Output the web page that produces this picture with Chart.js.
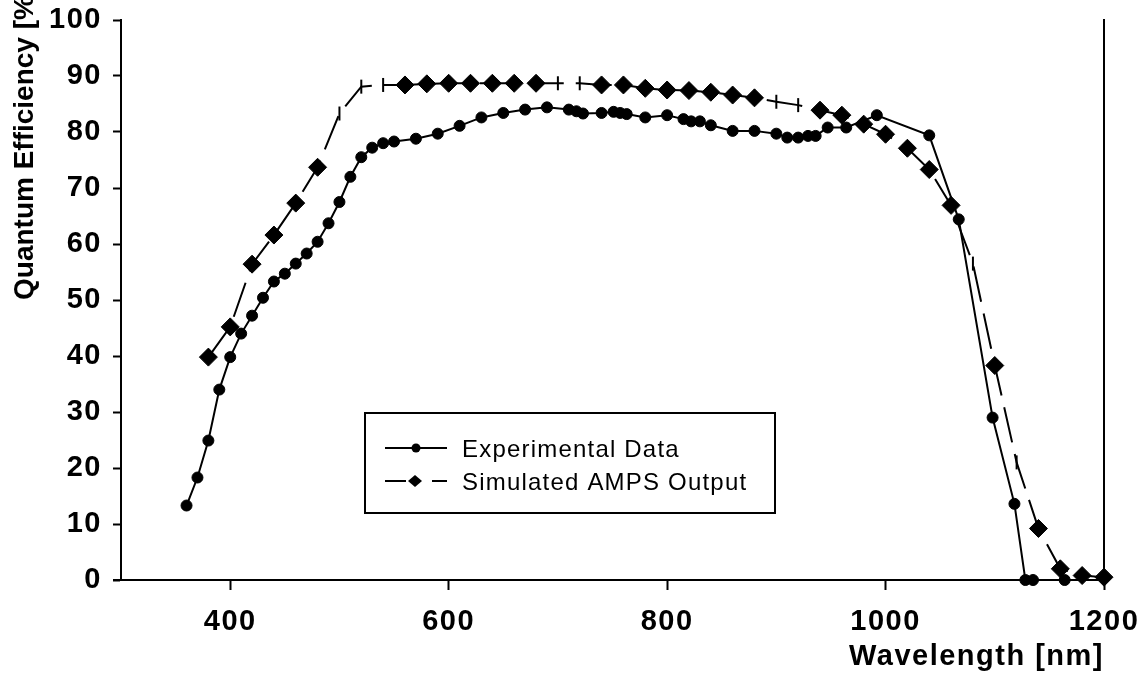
<!DOCTYPE html>
<html>
<head>
<meta charset="utf-8">
<title>Quantum Efficiency</title>
<script src="https://cdn.jsdelivr.net/npm/chart.js@4.4.1/dist/chart.umd.min.js"></script>
<style>
  html, body { margin: 0; padding: 0; background: #fff; }
  .chartBox { position: relative; width: 1145px; height: 678px; }
</style>
</head>
<body>
<div class="chartBox"><canvas id="qeChart"></canvas></div>
<script>
// measured QE
const expWavelength = [360, 370, 380, 390, 400, 410, 420, 430, 440, 450, 460, 470, 480, 490, 500, 510, 520, 530, 540, 550,
  570, 590, 610, 630, 650, 670, 690, 710, 717, 723, 740, 751, 757, 763, 780, 800, 815, 822, 830, 840,
  860, 880, 900, 910, 920, 929, 936, 947, 964, 992, 1040, 1067, 1098, 1118, 1128, 1135, 1164];
const expQE = [13.3, 18.3, 24.9, 34.0, 39.8, 44.0, 47.2, 50.4, 53.3, 54.7, 56.5, 58.3, 60.4, 63.7, 67.5, 72.0, 75.5, 77.2, 78.0, 78.3,
  78.8, 79.7, 81.1, 82.6, 83.4, 84.0, 84.4, 84.0, 83.7, 83.3, 83.4, 83.6, 83.4, 83.2, 82.6, 83.0, 82.3, 81.9, 81.9, 81.2,
  80.2, 80.2, 79.7, 79.0, 79.0, 79.3, 79.3, 80.8, 80.8, 83.0, 79.4, 64.4, 29.0, 13.6, 0, 0, 0];

// AMPS simulation
const simWavelength = [380, 400, 420, 440, 460, 480, 500, 520, 540, 560, 580, 600, 620, 640, 660, 680, 700, 720, 740, 760,
  780, 800, 820, 840, 860, 880, 900, 920, 940, 960, 980, 1000, 1020, 1040, 1060, 1080, 1100, 1120, 1140, 1160, 1180, 1200];
const simQE = [39.8, 45.2, 56.4, 61.6, 67.3, 73.7, 83.3, 88.1, 88.4, 88.4, 88.6, 88.7, 88.7, 88.7, 88.7, 88.7, 88.7, 88.7, 88.4, 88.4,
  87.8, 87.5, 87.4, 87.1, 86.6, 86.1, 85.4, 84.8, 83.9, 83.0, 81.4, 79.6, 77.1, 73.3, 66.9, 56.5, 38.3, 21.0, 9.2, 2.0, 0.8, 0.5];
// wavelengths where the simulated marker shows up as a bar instead of a diamond
const simBarMarks = [500, 520, 540, 700, 720, 900, 920, 1080, 1120];

const xTickValues = [400, 600, 800, 1000, 1200];
const seriesNames = ["Experimental Data", "Simulated AMPS Output"];
const xTitle = "Wavelength [nm]";
const yTitle = "Quantum Efficiency [%]";

const FONT = '"Liberation Sans", Arial, sans-serif';
Chart.defaults.font.family = FONT;
Chart.defaults.color = "#000";

const isBar = (w) => simBarMarks.includes(w);

// spacing for the axis text, the original looks a bit stretched
const spacingPlugin = {
  id: "spacing",
  beforeDraw(chart) {
    chart.ctx.letterSpacing = "1.5px";
  },
};

// y title (runs off the top like the original) + boxed legend inside the plot
const extrasPlugin = {
  id: "extras",
  afterDraw(chart) {
    const ctx = chart.ctx;
    const area = chart.chartArea;

    // x axis line sticks out a bit left of the y axis
    ctx.save();
    ctx.strokeStyle = "#000";
    ctx.lineWidth = 2;
    ctx.beginPath();
    ctx.moveTo(area.left - 8, Math.round(area.bottom));
    ctx.lineTo(area.left, Math.round(area.bottom));
    ctx.stroke();
    ctx.restore();

    ctx.save();
    ctx.letterSpacing = "0px";
    ctx.fillStyle = "#000";
    ctx.font = "bold 28px " + FONT;
    ctx.translate(33, 300);
    ctx.rotate(-Math.PI / 2);
    ctx.textAlign = "left";
    ctx.textBaseline = "alphabetic";
    ctx.fillText(yTitle, 0, 0);
    ctx.restore();

    ctx.save();
    ctx.strokeStyle = "#000";
    ctx.fillStyle = "#000";
    ctx.lineWidth = 2;
    ctx.strokeRect(365, 413, 410, 100);

    // row 1: solid line with dot
    let y = 448;
    ctx.beginPath();
    ctx.moveTo(385, y);
    ctx.lineTo(447, y);
    ctx.stroke();
    ctx.beginPath();
    ctx.arc(416, y, 4.5, 0, Math.PI * 2);
    ctx.fill();

    // row 2: line, diamond, dash
    y = 481;
    ctx.beginPath();
    ctx.moveTo(385, y);
    ctx.lineTo(406, y);
    ctx.moveTo(432, y);
    ctx.lineTo(447, y);
    ctx.stroke();
    ctx.beginPath();
    ctx.moveTo(408, y);
    ctx.lineTo(415, y - 6);
    ctx.lineTo(422, y);
    ctx.lineTo(415, y + 6);
    ctx.closePath();
    ctx.fill();

    ctx.letterSpacing = "1.2px";
    ctx.font = "24px " + FONT;
    ctx.textAlign = "left";
    ctx.textBaseline = "middle";
    chart.data.datasets.forEach((ds, i) => {
      ctx.fillText(ds.label, 462, 450 + i * 33);
    });
    ctx.restore();
  },
};

function noPad(axis) {
  axis.paddingTop = 0;
  axis.paddingBottom = 0;
  axis.paddingLeft = 0;
  axis.paddingRight = 0;
}

const ctx = document.querySelector("#qeChart");
const qeChart = new Chart(ctx, {
  type: "line",
  data: {
    datasets: [
      {
        label: seriesNames[0],
        data: expWavelength.map((w, i) => ({ x: w, y: expQE[i] })),
        borderColor: "#000",
        backgroundColor: "#000",
        borderWidth: 2,
        pointStyle: "circle",
        pointRadius: 5.5,
        pointBorderWidth: 1,
        tension: 0,
        clip: false,
      },
      {
        label: seriesNames[1],
        data: simWavelength.map((w, i) => ({ x: w, y: simQE[i] })),
        borderColor: "#000",
        backgroundColor: "#000",
        borderWidth: 2,
        borderDash: [36, 12],
        pointStyle: simWavelength.map((w) => (isBar(w) ? "line" : "rectRot")),
        pointRotation: simWavelength.map((w) => (isBar(w) ? 90 : 0)),
        pointRadius: simWavelength.map((w) => (isBar(w) ? 7 : 9)),
        pointBorderWidth: simWavelength.map((w) => (isBar(w) ? 2 : 1)),
        tension: 0,
        clip: false,
      },
    ],
  },
  options: {
    responsive: true,
    maintainAspectRatio: false,
    animation: false,
    events: [],
    layout: { padding: { top: 20, left: 0, right: 0, bottom: 0 } },
    plugins: {
      legend: { display: false },
      tooltip: { enabled: false },
    },
    scales: {
      x: {
        type: "linear",
        position: "bottom",
        min: 300,
        max: 1200,
        afterBuildTicks: (axis) => {
          axis.ticks = xTickValues.map((v) => ({ value: v }));
        },
        afterFit: (axis) => {
          axis.height = 98;
          noPad(axis);
        },
        ticks: {
          font: { size: 29, weight: "bold" },
          padding: 15,
          maxRotation: 0,
          autoSkip: false,
          callback: (v) => String(v),
        },
        grid: { drawOnChartArea: false, tickLength: 10, tickWidth: 2, tickColor: "#000" },
        border: { color: "#000", width: 2 },
        title: {
          display: true,
          text: xTitle,
          align: "end",
          font: { size: 29, weight: "bold" },
          padding: { top: 0, bottom: 4 },
        },
      },
      y: {
        position: "left",
        min: 0,
        max: 100,
        afterFit: (axis) => {
          axis.width = 121;
          noPad(axis);
        },
        ticks: {
          stepSize: 10,
          font: { size: 29, weight: "bold" },
          padding: 11,
          callback: (v) => String(v),
        },
        grid: { drawOnChartArea: false, tickLength: 8, tickWidth: 2, tickColor: "#000" },
        border: { color: "#000", width: 2 },
      },
      y2: {
        position: "right",
        display: true,
        min: 0,
        max: 100,
        afterFit: (axis) => {
          axis.width = 41;
          noPad(axis);
        },
        ticks: { display: false },
        grid: { display: false },
        border: { color: "#000", width: 2 },
      },
    },
  },
  plugins: [spacingPlugin, extrasPlugin],
});
</script>
</body>
</html>
